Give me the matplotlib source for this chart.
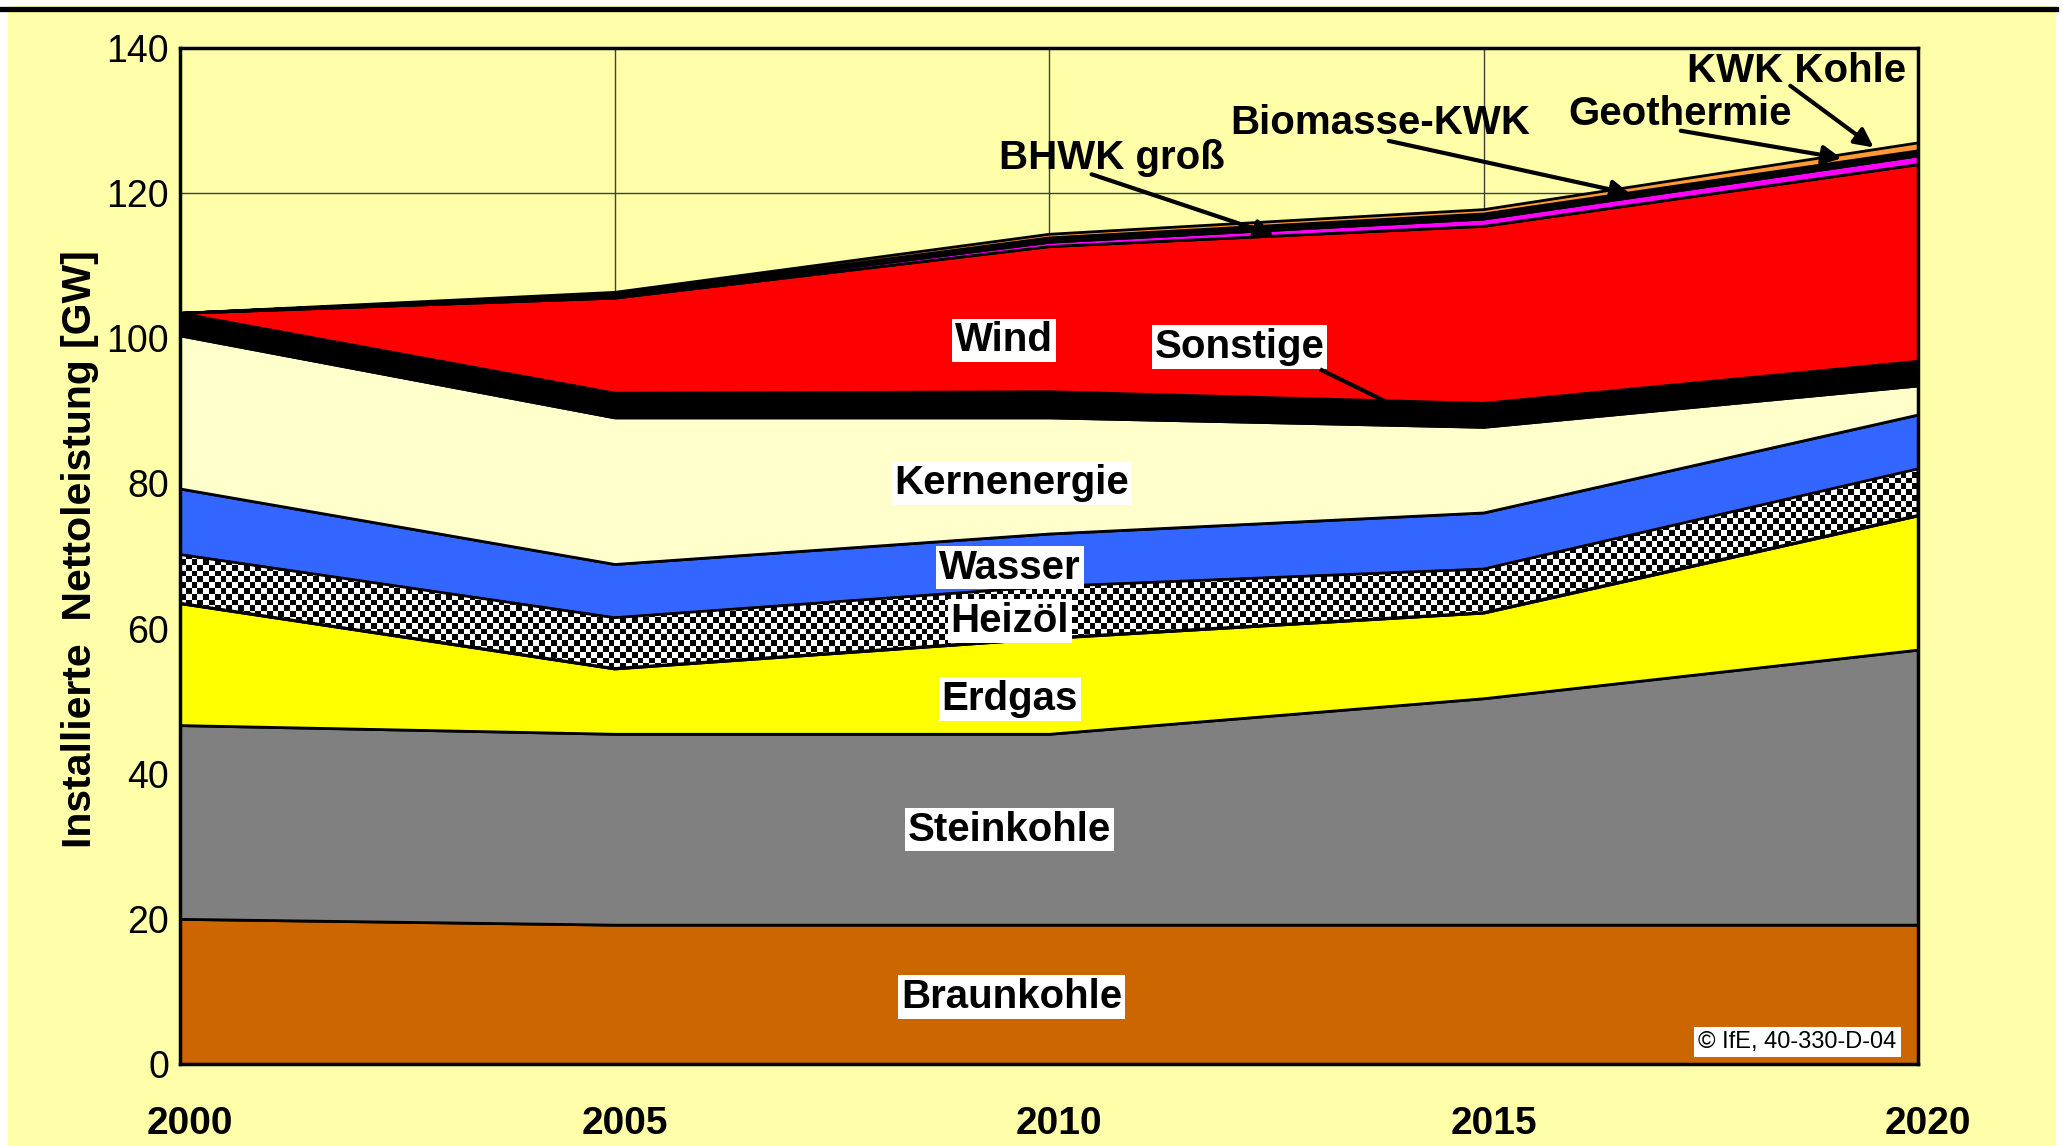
import numpy as np
import matplotlib
matplotlib.use("Agg")
import matplotlib.pyplot as plt
from matplotlib.patches import Rectangle
from matplotlib.lines import Line2D
import matplotlib.transforms as mtransforms

# ---- data (GW) ----
years = [2000, 2005, 2010, 2015, 2020]
braunkohle = [20.0, 19.2, 19.2, 19.2, 19.2]
steinkohle = [26.7, 26.3, 26.3, 31.2, 37.9]
erdgas = [16.8, 9.0, 13.2, 11.8, 18.5]
heizoel = [6.7, 7.0, 7.1, 6.0, 6.4]
wasser = [9.1, 7.4, 7.3, 7.8, 7.5]
kernenergie = [21.1, 20.2, 16.0, 11.8, 4.0]
sonstige = [3.1, 3.4, 3.6, 3.3, 3.4]
wind = [0.0, 13.1, 20.0, 24.4, 27.1]
bhwk_gross = [0.0, 0.2, 0.6, 1.0, 1.2]
biomasse_kwk = [0.0, 0.3, 0.4, 0.4, 0.4]
geothermie = [0.0, 0.0, 0.2, 0.3, 0.3]
kwk_kohle = [0.0, 0.3, 0.5, 0.6, 1.1]

series = [
    ("Braunkohle", braunkohle, "#CC6600"),
    ("Steinkohle", steinkohle, "#808080"),
    ("Erdgas", erdgas, "#FFFF00"),
    ("Heizöl", heizoel, "checker"),
    ("Wasser", wasser, "#3366FF"),
    ("Kernenergie", kernenergie, "#FFFFCC"),
    ("Sonstige", sonstige, "#000000"),
    ("Wind", wind, "#FF0000"),
    ("BHWK groß", bhwk_gross, "#FF00FF"),
    ("Biomasse-KWK", biomasse_kwk, "#00A000"),
    ("Geothermie", geothermie, "#000000"),
    ("KWK Kohle", kwk_kohle, "#FF9933"),
]

BG = "#FFFFAA"
plt.rcParams["font.family"] = ["Liberation Sans", "DejaVu Sans"]

fig = plt.figure(figsize=(20.63, 11.46), dpi=100, facecolor="white")
fig.patches.append(Rectangle((8 / 2063, 0), 2048 / 2063, 1140 / 1146,
                             transform=fig.transFigure, facecolor=BG,
                             edgecolor="none", zorder=-10))
fig.lines.append(Line2D([0, 2056 / 2063], [1 - 8.5 / 1146] * 2,
                        transform=fig.transFigure, color="black", lw=3.8))

ax = fig.add_axes([180 / 2063, 82 / 1146, 1738 / 2063, 1016 / 1146])
ax.set_facecolor(BG)

x = np.array(years, dtype=float)
base = np.zeros(len(years))
for name, vals, col in series:
    top = base + np.array(vals)
    if col == "checker":
        # Heizöl: black/white checkerboard clipped to the band
        poly = ax.fill_between(x, base, top, facecolor="white",
                               edgecolor="black", lw=2, zorder=2)
        rows, cols = 175, 300
        board = np.add.outer(np.arange(rows), np.arange(cols)) % 2
        im = ax.imshow(board, cmap="gray", extent=(2000, 2020, 0, 140),
                       aspect="auto", interpolation="nearest", zorder=2.1)
        im.set_clip_path(poly.get_paths()[0], transform=ax.transData)
        ax.fill_between(x, base, top, facecolor="none",
                        edgecolor="black", lw=2, zorder=2.2)
    else:
        ax.fill_between(x, base, top, facecolor=col, edgecolor="black",
                        lw=2, zorder=2)
    base = top

ax.set_xlim(2000, 2020)
ax.set_ylim(0, 140)
ax.set_xticks(years)
ax.set_yticks(np.arange(0, 141, 20))
ax.grid(True, color="0.25", lw=1)
ax.set_axisbelow(True)
for s in ax.spines.values():
    s.set_linewidth(2.5)
    s.set_zorder(5)

ax.tick_params(axis="y", length=0, pad=8, labelsize=27)
ax.tick_params(axis="x", length=0, pad=30, labelsize=28)
for lab in ax.get_xticklabels():
    lab.set_fontweight("bold")
    lab.set_transform(lab.get_transform() +
                      mtransforms.ScaledTranslation(0.1, 0, fig.dpi_scale_trans))

ax.text(-0.0575, 71, "Installierte  Nettoleistung [GW]",
        transform=ax.get_yaxis_transform(), rotation=90, ha="center",
        va="center", fontsize=29.5, fontweight="bold")

# boxed labels inside the areas
box = dict(facecolor="white", edgecolor="none", pad=2)
boxed = [
    ("Wind", 2009.48, 99.7),
    ("Sonstige", 2012.19, 98.8),
    ("Kernenergie", 2009.57, 80.0),
    ("Wasser", 2009.55, 68.4),
    ("Heizöl", 2009.55, 61.0),
    ("Erdgas", 2009.55, 50.3),
    ("Steinkohle", 2009.55, 32.3),
    ("Braunkohle", 2009.57, 9.2),
]
for txt, tx, ty in boxed:
    ax.text(tx, ty, txt, ha="center", va="center", fontsize=29,
            fontweight="bold", bbox=box, zorder=6)

# labels above the stack with arrows
top_labels = [
    ("KWK Kohle", 2018.6, 136.8, (2018.53, 134.8), (2019.49, 126.3)),
    ("Geothermie", 2017.26, 130.9, (2017.27, 128.6), (2019.12, 124.8)),
    ("Biomasse-KWK", 2013.81, 129.6, (2013.91, 127.2), (2016.69, 119.9)),
    ("BHWK groß", 2010.72, 124.9, (2010.49, 122.6), (2012.59, 114.2)),
]
for txt, tx, ty, start, end in top_labels:
    ax.text(tx, ty, txt, ha="center", va="center", fontsize=29,
            fontweight="bold", zorder=6)
    ax.annotate("", xy=end, xytext=start, zorder=6,
                arrowprops=dict(arrowstyle="-|>", color="black", lw=3,
                                mutation_scale=28, shrinkA=0, shrinkB=0))

# Sonstige pointer line
ax.plot([2013.14, 2013.91], [95.6, 91.1], color="black", lw=3, zorder=6)

ax.text(2019.75, 3.0, "© IfE, 40-330-D-04", ha="right", va="center",
        fontsize=17, bbox=dict(facecolor="white", edgecolor="none", pad=3),
        zorder=6)

fig.savefig("out.png", dpi=100, facecolor=fig.get_facecolor())
